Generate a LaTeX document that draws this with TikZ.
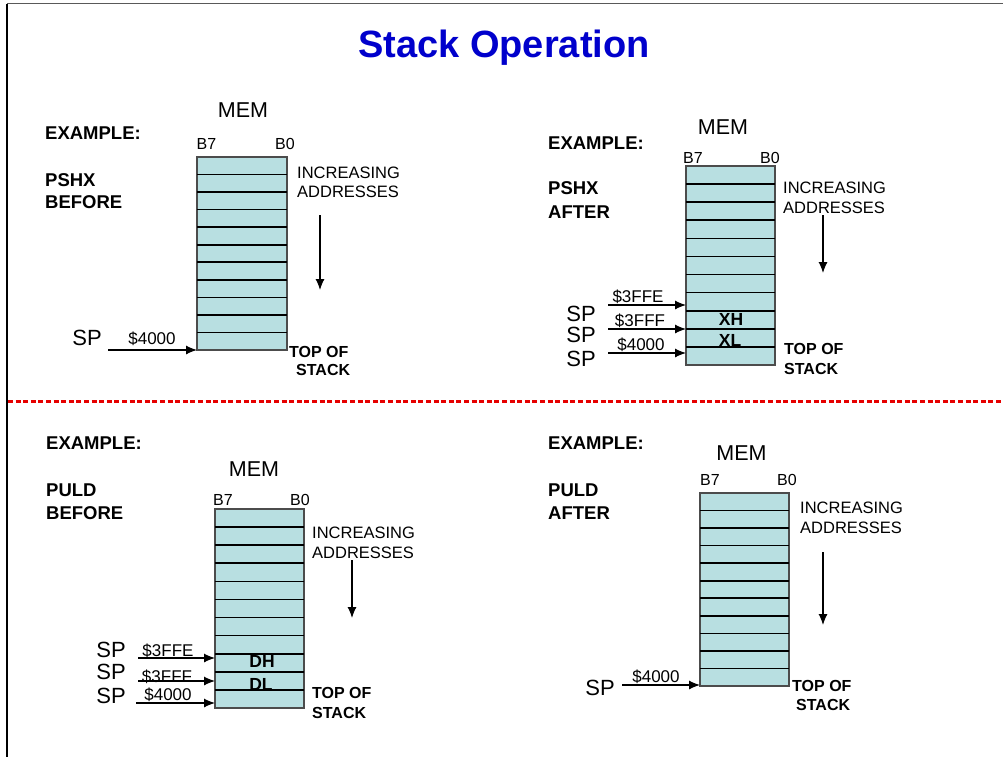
\documentclass[tikz,border=0pt]{standalone}
\usepackage{fontspec}
\setmainfont{Liberation Sans}
\usetikzlibrary{arrows.meta,calc}
\definecolor{cellc}{RGB}{184,223,225}
\definecolor{titleblue}{RGB}{0,0,204}
\definecolor{dashred}{RGB}{230,0,0}
\newcommand\fsz[1]{\fontsize{#1}{#1}\selectfont}
\tikzset{
  hdr/.style={inner sep=0pt, anchor=west, font=\bfseries\fsz{18.5}},
  inc/.style={inner sep=0pt, anchor=west, font=\fsz{16.5}},
  memlbl/.style={inner sep=0pt, font=\fsz{21.5}},
  bit/.style={inner sep=0pt, font=\fsz{16}},
  splbl/.style={inner sep=0pt, font=\fsz{22}},
  addr/.style={inner sep=0pt, font=\fsz{17}},
  tos/.style={inner sep=0pt, anchor=west, font=\bfseries\fsz{16}},
  reglbl/.style={inner sep=0pt, font=\bfseries\fsz{17.5}},
  ptr/.style={-{Latex[length=11pt,width=9pt]}, line width=1.1pt},
  downarr/.style={-{Latex[length=11pt,width=9pt]}, line width=1.1pt},
  memrect/.style={draw=black!70, line width=1.2pt, fill=cellc, inner sep=0pt, outer sep=0pt, anchor=north west},
  cellline/.style={line width=1.6pt, black},
}
\newcommand\memstack[5]{%
  \node[memrect, minimum width={#4-#2}, minimum height={#5-#3}] (#1) at (#2,#3) {};
  \foreach \i in {1,...,10}{
    \draw[cellline] ($(#1.north west)!\i/11!(#1.south west)$) -- ($(#1.north east)!\i/11!(#1.south east)$);
  }%
}
\begin{document}
\begin{tikzpicture}[x=1pt,y=-1pt]
\useasboundingbox (0,0) rectangle (1003,757);
% frame
\coordinate (ftl) at (7,4);
\coordinate (ftr) at (1003,4);
\coordinate (fbl) at (7,757);
\draw[black!65, line width=1pt] (ftl) -- (ftr);
\draw[black, line width=1.5pt] (ftl) -- (fbl);
% title
\node[inner sep=0pt, text=titleblue, font=\bfseries\fsz{38}] (title) at (504,48) {Stack Operation};
% separator
\coordinate (sepl) at (8,401);
\coordinate (sepr) at (1003,401);
\draw[dashred, line width=3pt, dash pattern=on 5pt off 2.6pt] (sepl) -- (sepr);

% ================= Panel A: PSHX BEFORE =================
\memstack{sA}{197}{157}{287}{350}
\node[memlbl] (memA) at (243,110) {MEM};
\node[bit] (b7A) at (206.5,143.5) {B7};
\node[bit] (b0A) at (285,143.5) {B0};
\node[hdr] (exA) at (45,133) {EXAMPLE:};
\node[hdr] (opA) at (45,180) {PSHX};
\node[hdr] (whA) at (45,202) {BEFORE};
\node[inc] (incA) at (297,173) {INCREASING};
\node[inc] (adA) at (297,192) {ADDRESSES};
\coordinate (daA1) at (320,215);
\coordinate (daA2) at (320,290);
\draw[downarr] (daA1) -- (daA2);
\node[splbl] (spA) at (87,338) {SP};
\coordinate (pA) at (108,350);
\draw[ptr] (pA) -- (pA -| sA.west);
\node[addr] (adrA) at (152,339) {\$4000};
\node[tos] (tosA1) at (289,352) {TOP OF};
\node[tos] (tosA2) at (296,370) {STACK};

% ================= Panel B: PSHX AFTER =================
\memstack{sB}{686}{166}{775}{365}
\node[memlbl] (memB) at (723,127) {MEM};
\node[bit] (b7B) at (693,158) {B7};
\node[bit] (b0B) at (770,158) {B0};
\node[hdr] (exB) at (548,143) {EXAMPLE:};
\node[hdr] (opB) at (548,188) {PSHX};
\node[hdr] (whB) at (548,212) {AFTER};
\node[inc] (incB) at (783,188) {INCREASING};
\node[inc] (adB) at (783,208) {ADDRESSES};
\coordinate (daB1) at (823,215);
\coordinate (daB2) at (823,273);
\draw[downarr] (daB1) -- (daB2);
\node[splbl] (spB1) at (581,314) {SP};
\node[splbl] (spB2) at (581,335) {SP};
\node[splbl] (spB3) at (581,359) {SP};
\coordinate (pB1) at (608,305);
\coordinate (pB2) at (608,329);
\coordinate (pB3) at (608,353);
\draw[ptr] (pB1) -- (pB1 -| sB.west);
\draw[ptr] (pB2) -- (pB2 -| sB.west);
\draw[ptr] (pB3) -- (pB3 -| sB.west);
\node[addr] (adrB1) at (638,297) {\$3FFE};
\node[addr] (adrB2) at (640,321) {\$3FFF};
\node[addr] (adrB3) at (641,345) {\$4000};
\node[reglbl] (xh) at (731,319) {XH};
\node[reglbl] (xl) at (730,340) {XL};
\node[tos] (tosB1) at (784,349) {TOP OF};
\node[tos] (tosB2) at (784,369) {STACK};

% ================= Panel C: PULD BEFORE =================
\memstack{sC}{215}{509}{304}{708}
\node[memlbl] (memC) at (254,469.5) {MEM};
\node[bit] (b7C) at (223,500) {B7};
\node[bit] (b0C) at (300,500) {B0};
\node[hdr] (exC) at (46,443) {EXAMPLE:};
\node[hdr] (opC) at (46,490) {PULD};
\node[hdr] (whC) at (46,513) {BEFORE};
\node[inc] (incC) at (312,533) {INCREASING};
\node[inc] (adC) at (312,553) {ADDRESSES};
\coordinate (daC1) at (352,560);
\coordinate (daC2) at (352,618);
\draw[downarr] (daC1) -- (daC2);
\node[splbl] (spC1) at (111,649.5) {SP};
\node[splbl] (spC2) at (111,672) {SP};
\node[splbl] (spC3) at (111,696) {SP};
\coordinate (pC1) at (138,658);
\coordinate (pC2) at (138,681);
\coordinate (pC3) at (136,703);
\draw[ptr] (pC1) -- (pC1 -| sC.west);
\draw[ptr] (pC2) -- (pC2 -| sC.west);
\draw[ptr] (pC3) -- (pC3 -| sC.west);
\node[addr] (adrC1) at (168,651) {\$3FFE};
\node[addr] (adrC2) at (167,677) {\$3FFF};
\node[addr] (adrC3) at (168,695) {\$4000};
\node[reglbl] (dh) at (262,661) {DH};
\node[reglbl] (dl) at (261,684) {DL};
\node[tos] (tosC1) at (312,693) {TOP OF};
\node[tos] (tosC2) at (312,713) {STACK};

% ================= Panel D: PULD AFTER =================
\memstack{sD}{700}{493}{789}{686}
\node[memlbl] (memD) at (741.5,453) {MEM};
\node[bit] (b7D) at (710,479.5) {B7};
\node[bit] (b0D) at (787,479.5) {B0};
\node[hdr] (exD) at (548,443) {EXAMPLE:};
\node[hdr] (opD) at (548,490) {PULD};
\node[hdr] (whD) at (548,513) {AFTER};
\node[inc] (incD) at (800,508) {INCREASING};
\node[inc] (adD) at (800,528) {ADDRESSES};
\coordinate (daD1) at (823,552);
\coordinate (daD2) at (823,625);
\draw[downarr] (daD1) -- (daD2);
\node[splbl] (spD) at (600,688) {SP};
\coordinate (pD) at (622,685);
\draw[ptr] (pD) -- (pD -| sD.west);
\node[addr] (adrD) at (656,677) {\$4000};
\node[tos] (tosD1) at (792,686) {TOP OF};
\node[tos] (tosD2) at (796,705) {STACK};
\end{tikzpicture}
\end{document}
